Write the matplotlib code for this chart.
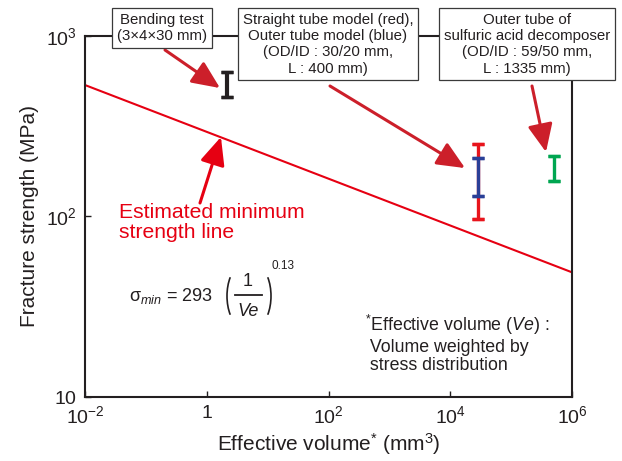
import numpy as np
import matplotlib
matplotlib.use('Agg')
import matplotlib.pyplot as plt
from matplotlib.lines import Line2D
from matplotlib.patches import Arc
from matplotlib.transforms import IdentityTransform

plt.rcParams['font.family'] = ['Liberation Sans', 'DejaVu Sans']
plt.rcParams['mathtext.fontset'] = 'custom'
plt.rcParams['mathtext.rm'] = 'Liberation Sans'
plt.rcParams['mathtext.it'] = 'Liberation Sans:italic'
plt.rcParams['mathtext.bf'] = 'Liberation Sans:bold'

# estimated minimum strength line (end points)
line_x = [1e-2, 1e6]
line_y = [533, 49]

# measured ranges: x, low, high
bend_x, bend_lo, bend_hi = 2.15, 456, 632
red_x, red_lo, red_hi = 2.83e4, 96.6, 251
blue_x, blue_lo, blue_hi = 2.83e4, 129.5, 210
green_x, green_lo, green_hi = 5.06e5, 157, 216

xticks = [1e-2, 1, 1e2, 1e4, 1e6]
xlabels = ['$10^{-2}$', '$1$', '$10^{2}$', '$10^{4}$', '$10^{6}$']
yticks = [10, 100, 1000]
ylabels = ['$10$', '$10^{2}$', '$10^{3}$']

dark = '#231f20'
red = '#e60012'
arrow_red = '#cc1f2a'

fig = plt.figure(figsize=(6.22, 4.61), dpi=100)
ax = fig.add_axes([0.1367, 0.1388, 0.7829, 0.7838])
W, H = 622, 461

ax.set_xscale('log')
ax.set_yscale('log')
ax.set_xlim(1e-2, 1e6)
ax.set_ylim(10, 1000)

ax.plot(line_x, line_y, color=red, lw=1.5)


def rng(x, lo, hi, c, lw=2.4):
    ax.vlines(x, lo, hi, color=c, lw=lw, zorder=3)
    ax.errorbar([x, x], [lo, hi], yerr=0, fmt='none', ecolor=c, capsize=4,
                capthick=2.4, elinewidth=0, zorder=3)


rng(bend_x, bend_lo, bend_hi, dark, lw=3)
rng(red_x, red_lo, red_hi, '#e8141c')
rng(blue_x, blue_lo, blue_hi, '#2a3f97')
rng(green_x, green_lo, green_hi, '#00a651')

ax.set_xticks(xticks)
ax.set_xticklabels(xlabels)
ax.set_yticks(yticks)
ax.set_yticklabels(ylabels)
ax.minorticks_off()
ax.tick_params(direction='in', length=4, width=1, labelsize=14, colors=dark, pad=6)
for s in ax.spines.values():
    s.set_linewidth(1.5)
    s.set_color(dark)

ax.set_xlabel('Effective volume$^{*}$ (mm$^{3}$)', fontsize=15, color=dark, labelpad=3)
ax.set_ylabel('Fracture strength (MPa)', fontsize=15, color=dark, labelpad=5)

box = dict(boxstyle='square,pad=0.3', fc='white', ec='#3a3a3a', lw=0.9)
fs_box = 10.8
fig.text(162 / W, 1 - 13 / H, 'Bending test\n(3×4×30 mm)', ha='center', va='top',
         fontsize=fs_box, color=dark, bbox=box, linespacing=1.2)
fig.text(328 / W, 1 - 13 / H,
         'Straight tube model (red),\nOuter tube model (blue)\n(OD/ID : 30/20 mm,\nL : 400 mm)',
         ha='center', va='top', fontsize=fs_box, color=dark, bbox=box, linespacing=1.2)
fig.text(527 / W, 1 - 13 / H,
         'Outer tube of\nsulfuric acid decomposer\n(OD/ID : 59/50 mm,\nL : 1335 mm)',
         ha='center', va='top', fontsize=fs_box, color=dark, bbox=box, linespacing=1.2)

aprops = dict(arrowstyle='-|>,head_length=0.85,head_width=0.38', color=arrow_red,
              lw=2.2, mutation_scale=20, shrinkA=0, shrinkB=0)
ax.annotate('', xy=(1.65, 513), xytext=(165, H - 50), textcoords='figure pixels',
            arrowprops=aprops)
ax.annotate('', xy=(1.75e4, 185), xytext=(330, H - 86), textcoords='figure pixels',
            arrowprops=aprops)
ax.annotate('', xy=(3.74e5, 227), xytext=(532, H - 86), textcoords='figure pixels',
            arrowprops=aprops)
lprops = dict(aprops, color=red)
ax.annotate('', xy=(1.71, 275), xytext=(200, H - 203), textcoords='figure pixels',
            arrowprops=lprops)

fig.text(119 / W, 1 - 203 / H, 'Estimated minimum\nstrength line', ha='left', va='top',
         fontsize=15.2, color=red, linespacing=1.1)

# formula, built from pieces
fig.text(129 / W, 1 - 296 / H, 'σ$_{\\mathit{min}}$ = 293', ha='left', va='center',
         fontsize=13, color=dark)
px = IdentityTransform()
fig.add_artist(Arc((242, H - 296), 30, 60, theta1=122, theta2=238, transform=px,
                   color=dark, lw=1.2))
fig.add_artist(Arc((256, H - 296), 30, 60, theta1=-58, theta2=58, transform=px,
                   color=dark, lw=1.2))
fig.text(248 / W, 1 - 281 / H, '1', ha='center', va='center', fontsize=13, color=dark)
fig.text(248 / W, 1 - 311 / H, 'Ve', ha='center', va='center', fontsize=13, color=dark,
         style='italic')
fig.add_artist(Line2D([235 / W, 262 / W], [1 - 295 / H, 1 - 295 / H], color=dark, lw=1.3))
fig.text(272 / W, 1 - 266 / H, '0.13', ha='left', va='center', fontsize=8.5, color=dark)

fig.text(365 / W, 1 - 313 / H,
         '$^{*}$Effective volume ($\\mathit{Ve}$) :\n Volume weighted by\n stress distribution',
         ha='left', va='top', fontsize=12.8, color=dark, linespacing=1.12)

fig.savefig('out.png', dpi=100)
